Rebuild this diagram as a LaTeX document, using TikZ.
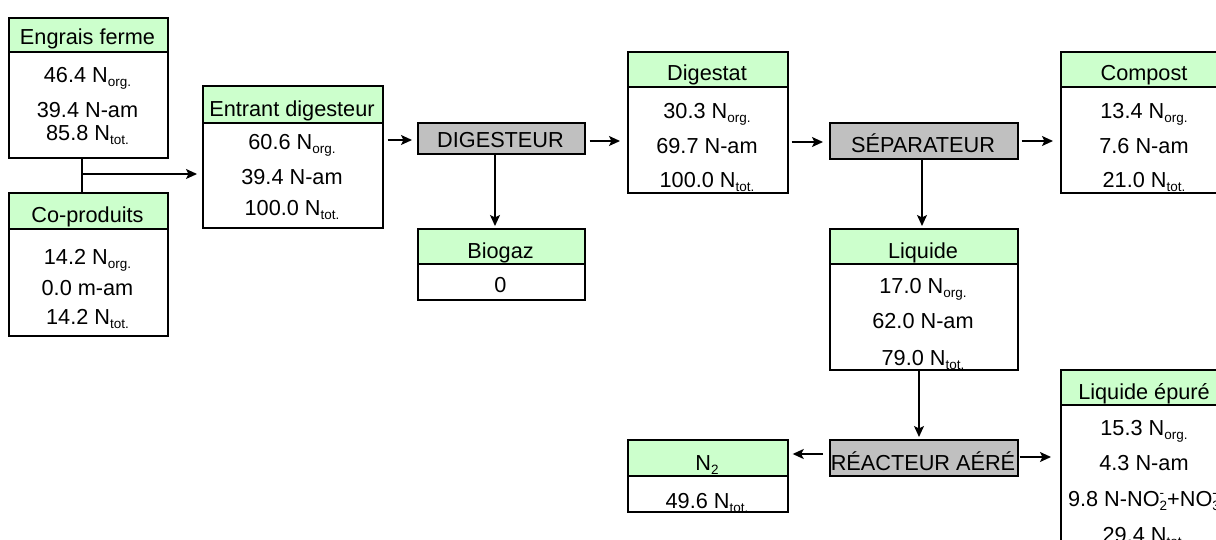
\documentclass[tikz,border=0pt]{standalone}
\usepackage{fontspec}
\setmainfont{Liberation Sans}
\usetikzlibrary{arrows.meta}
\definecolor{hdrgreen}{HTML}{CCFFCC}
\definecolor{procgray}{HTML}{C0C0C0}
\newcommand\lowtxt[1]{\raisebox{-4pt}{\fontsize{13.5}{13.5}\selectfont #1}}
\newcommand\supsub[2]{\rlap{\raisebox{9pt}{\fontsize{13.5}{13.5}\selectfont #1}}\raisebox{-4pt}{\fontsize{13.5}{13.5}\selectfont #2}}
\tikzset{
  box/.style={draw, line width=1.7pt, inner sep=0pt, anchor=north west, rectangle},
  hdr/.style={box, fill=hdrgreen},
  body/.style={box, fill=white},
  proc/.style={box, fill=procgray},
  txt/.style={anchor=base, inner sep=0pt, font=\fontsize{21.7}{25}\selectfont},
  arr/.style={line width=1.4pt, -{Stealth[length=11pt,width=10pt,inset=2.5pt]}},
  conn/.style={line width=1.4pt}
}
\begin{document}
\begin{tikzpicture}[x=1pt,y=-1pt]
\useasboundingbox (0,0) rectangle (1216,540);
\clip (0,0) rectangle (1216,540);
\fill[white] (0,0) rectangle (1216,540);

% Engrais ferme
\node[body, minimum width=159pt, minimum height=106pt] (engB) at (8,51) {};
\node[hdr, minimum width=159pt, minimum height=34pt] (engH) at (8,17) {};
\node[txt] (engT) at (87.5,45) {Engrais ferme};
\node[txt] (eng1) at (87.5,82.5) {46.4 N\lowtxt{org.}};
\node[txt] (eng2) at (87.5,117.5) {39.4 N-am};
\node[txt] (eng3) at (87.5,140.5) {85.8 N\lowtxt{tot.}};

% Co-produits
\node[body, minimum width=159pt, minimum height=107pt] (coB) at (8,228) {};
\node[hdr, minimum width=159pt, minimum height=36pt] (coH) at (8,192) {};
\node[txt] (coT) at (87.5,222.5) {Co-produits};
\node[txt] (co1) at (87.5,264.5) {14.2 N\lowtxt{org.}};
\node[txt] (co2) at (87.5,295.5) {0.0 m-am};
\node[txt] (co3) at (87.5,324.5) {14.2 N\lowtxt{tot.}};

% Entrant digesteur
\node[body, minimum width=180pt, minimum height=105pt] (entB) at (202,122) {};
\node[hdr, minimum width=180pt, minimum height=37pt] (entH) at (202,85) {};
\node[txt] (entT) at (292,116.5) {Entrant digesteur};
\node[txt] (ent1) at (292,149.5) {60.6 N\lowtxt{org.}};
\node[txt] (ent2) at (292,184.5) {39.4 N-am};
\node[txt] (ent3) at (292,215.5) {100.0 N\lowtxt{tot.}};

% DIGESTEUR
\node[proc, minimum width=167pt, minimum height=31pt] (dig) at (417,122) {};
\node[txt] (digT) at (500.5,148) {DIGESTEUR};

% Biogaz
\node[body, minimum width=167pt, minimum height=36pt] (bioB) at (417,263) {};
\node[hdr, minimum width=167pt, minimum height=35pt] (bioH) at (417,228) {};
\node[txt] (bioT) at (500.5,258.5) {Biogaz};
\node[txt] (bio1) at (500.5,292.5) {0};

% Digestat
\node[body, minimum width=160pt, minimum height=106pt] (dstB) at (627,86) {};
\node[hdr, minimum width=160pt, minimum height=35pt] (dstH) at (627,51) {};
\node[txt] (dstT) at (707,80.5) {Digestat};
\node[txt] (dst1) at (707,118.5) {30.3 N\lowtxt{org.}};
\node[txt] (dst2) at (707,153.5) {69.7 N-am};
\node[txt] (dst3) at (707,187.5) {100.0 N\lowtxt{tot.}};

% SEPARATEUR
\node[proc, minimum width=188pt, minimum height=36pt] (sep) at (829,122) {};
\node[txt] (sepT) at (923,153) {SÉPARATEUR};

% Compost
\node[body, minimum width=168pt, minimum height=106pt] (cmpB) at (1060,86) {};
\node[hdr, minimum width=168pt, minimum height=35pt] (cmpH) at (1060,51) {};
\node[txt] (cmpT) at (1144,80.5) {Compost};
\node[txt] (cmp1) at (1144,118.5) {13.4 N\lowtxt{org.}};
\node[txt] (cmp2) at (1144,153.5) {7.6 N-am};
\node[txt] (cmp3) at (1144,187.5) {21.0 N\lowtxt{tot.}};

% Liquide
\node[body, minimum width=188pt, minimum height=106pt] (liqB) at (829,263) {};
\node[hdr, minimum width=188pt, minimum height=35pt] (liqH) at (829,228) {};
\node[txt] (liqT) at (923,258.5) {Liquide};
\node[txt] (liq1) at (923,293.5) {17.0 N\lowtxt{org.}};
\node[txt] (liq2) at (923,328.5) {62.0 N-am};
\node[txt] (liq3) at (923,365.5) {79.0 N\lowtxt{tot.}};

% REACTEUR AERE
\node[proc, minimum width=188pt, minimum height=36pt] (rea) at (829,439) {};
\node[txt] (reaT) at (923,470) {RÉACTEUR AÉRÉ};

% N2
\node[body, minimum width=160pt, minimum height=36pt] (n2B) at (627,475) {};
\node[hdr, minimum width=160pt, minimum height=36pt] (n2H) at (627,439) {};
\node[txt] (n2T) at (707,470.5) {N\lowtxt{2}};
\node[txt] (n21) at (707,508) {49.6 N\lowtxt{tot.}};

% Liquide epure
\node[body, minimum width=168pt, minimum height=180pt] (lepB) at (1060,404) {};
\node[hdr, minimum width=168pt, minimum height=35pt] (lepH) at (1060,369) {};
\node[txt] (lepT) at (1144,399.5) {Liquide épuré};
\node[txt] (lep1) at (1144,435.5) {15.3 N\lowtxt{org.}};
\node[txt] (lep2) at (1144,470.5) {4.3 N-am};
\node[txt] (lep3) at (1144,506.5) {9.8 N-NO\supsub{-}{2}+NO\supsub{-}{3}};
\node[txt] (lep4) at (1144,542.5) {29.4 N\lowtxt{tot.}};

% connectors
\coordinate (jn) at (82,174);
\draw[conn] (jn |- engB.south) -- (jn |- coH.north);
\draw[arr, shorten >=5pt] (jn) -- (jn -| entB.west);
\draw[arr, shorten <=4pt, shorten >=5pt] (entB.east |- 0,140) -- (dig.west |- 0,140);
\draw[arr, shorten >=2pt] (dig.south -| 495,0) -- (bioH.north -| 495,0);
\draw[arr, shorten <=4pt, shorten >=7pt] (dig.east |- 0,141) -- (dstB.west |- 0,141);
\draw[arr, shorten <=3pt, shorten >=6pt] (dstB.east |- 0,142) -- (sep.west |- 0,142);
\draw[arr, shorten <=3pt, shorten >=7pt] (sep.east |- 0,141) -- (cmpB.west |- 0,141);
\draw[arr, shorten >=2pt] (sep.south -| 922,0) -- (liqH.north -| 922,0);
\draw[arr, shorten >=2pt] (liqB.south -| 919,0) -- (rea.north -| 919,0);
\draw[arr, shorten <=6pt, shorten >=4pt] (rea.west |- 0,454) -- (n2H.east |- 0,454);
\draw[arr, shorten <=1pt, shorten >=9pt] (rea.east |- 0,457) -- (lepB.west |- 0,457);
\end{tikzpicture}
\end{document}
